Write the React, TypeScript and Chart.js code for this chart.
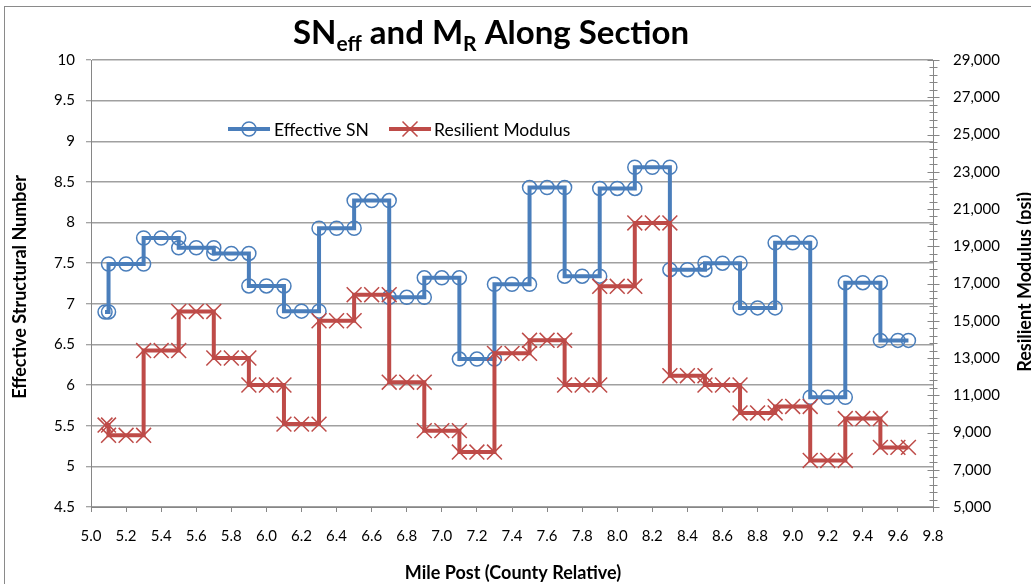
import React, { useEffect, useRef } from "react";
import { Chart, registerables } from "chart.js";

Chart.register(...registerables);

// Mile post of every marker along the section (each segment: start, middle, end)
const milePosts = [
  5.08, 5.1,
  5.1, 5.2, 5.3,
  5.3, 5.4, 5.5,
  5.5, 5.6, 5.7,
  5.7, 5.8, 5.9,
  5.9, 6.0, 6.1,
  6.1, 6.2, 6.3,
  6.3, 6.4, 6.5,
  6.5, 6.6, 6.7,
  6.7, 6.8, 6.9,
  6.9, 7.0, 7.1,
  7.1, 7.2, 7.3,
  7.3, 7.4, 7.5,
  7.5, 7.6, 7.7,
  7.7, 7.8, 7.9,
  7.9, 8.0, 8.1,
  8.1, 8.2, 8.3,
  8.3, 8.4, 8.5,
  8.5, 8.6, 8.7,
  8.7, 8.8, 8.9,
  8.9, 9.0, 9.1,
  9.1, 9.2, 9.3,
  9.3, 9.4, 9.5,
  9.5, 9.6, 9.66,
];

// Effective structural number at each mile post
const effectiveSN = [
  6.9, 6.9,
  7.49, 7.49, 7.49,
  7.81, 7.81, 7.81,
  7.69, 7.69, 7.69,
  7.62, 7.62, 7.62,
  7.22, 7.22, 7.22,
  6.91, 6.91, 6.91,
  7.93, 7.93, 7.93,
  8.27, 8.27, 8.27,
  7.08, 7.08, 7.08,
  7.32, 7.32, 7.32,
  6.32, 6.32, 6.32,
  7.24, 7.24, 7.24,
  8.43, 8.43, 8.43,
  7.34, 7.34, 7.34,
  8.42, 8.42, 8.42,
  8.68, 8.68, 8.68,
  7.42, 7.42, 7.42,
  7.5, 7.5, 7.5,
  6.95, 6.95, 6.95,
  7.75, 7.75, 7.75,
  5.85, 5.85, 5.85,
  7.26, 7.26, 7.26,
  6.55, 6.55, 6.55,
];

// Resilient modulus (psi) at each mile post
const resilientModulus = [
  9400, 9400,
  8850, 8850, 8850,
  13400, 13400, 13400,
  15500, 15500, 15500,
  13000, 13000, 13000,
  11550, 11550, 11550,
  9450, 9450, 9450,
  15000, 15000, 15000,
  16400, 16400, 16400,
  11700, 11700, 11700,
  9100, 9100, 9100,
  7950, 7950, 7950,
  13250, 13250, 13250,
  13950, 13950, 13950,
  11550, 11550, 11550,
  16850, 16850, 16850,
  20250, 20250, 20250,
  12050, 12050, 12050,
  11550, 11550, 11550,
  10050, 10050, 10050,
  10400, 10400, 10400,
  7500, 7500, 7500,
  9750, 9750, 9750,
  8200, 8200, 8200,
];

// Axis ranges and tick spacing
const mileRange = [5.0, 9.8];
const mileStep = 0.2;
const snRange = [4.5, 10];
const snStep = 0.5;
const mrRange = [5000, 29000];
const mrStep = 2000;
const mrMinorStep = 400;

const seriesNames = ["Effective SN", "Resilient Modulus"];

const FONT = "Lato, 'Open Sans', sans-serif";
const BLUE = "#4A7EBB";
const RED = "#BE4B48";
const AXIS = "#868686";
const GRID = "#a0a0a0";

const decorations = {
  id: "decorations",
  afterDraw(chart: any) {
    const { ctx, chartArea } = chart;
    const yR = chart.scales.yR;
    ctx.save();

    // right axis crossing tick marks
    ctx.strokeStyle = AXIS;
    ctx.lineWidth = 1;
    const ax = Math.round(chartArea.right) + 0.5;
    for (let v = mrRange[0]; v <= mrRange[1] + 1; v += mrMinorStep) {
      const y = Math.round(yR.getPixelForValue(v)) + 0.5;
      const major = (v - mrRange[0]) % mrStep === 0;
      const h = major ? 6 : 4;
      ctx.beginPath();
      ctx.moveTo(ax - h, y);
      ctx.lineTo(ax + h, y);
      ctx.stroke();
    }

    // chart title with subscripts
    const parts = [
      { t: "SN", sub: false },
      { t: "eff", sub: true },
      { t: " and M", sub: false },
      { t: "R", sub: true },
      { t: " Along Section", sub: false },
    ];
    const bigFont = `bold 33px ${FONT}`;
    const subFont = `bold 21px ${FONT}`;
    let total = 0;
    for (const p of parts) {
      ctx.font = p.sub ? subFont : bigFont;
      total += ctx.measureText(p.t).width;
    }
    let x = 491 - total / 2;
    ctx.fillStyle = "#000";
    ctx.textBaseline = "alphabetic";
    ctx.textAlign = "left";
    for (const p of parts) {
      ctx.font = p.sub ? subFont : bigFont;
      ctx.fillText(p.t, x, p.sub ? 51 : 44);
      x += ctx.measureText(p.t).width;
    }

    // axis titles
    ctx.font = `bold 18px ${FONT}`;
    ctx.textAlign = "center";
    ctx.textBaseline = "middle";
    ctx.fillText("Mile Post (County Relative)", 513, 573);

    ctx.save();
    ctx.translate(20, 287);
    ctx.rotate(-Math.PI / 2);
    ctx.fillText("Effective Structural Number", 0, 0);
    ctx.restore();

    ctx.save();
    ctx.translate(1025, 282);
    ctx.rotate(-Math.PI / 2);
    ctx.fillText("Resilient Modulus (psi)", 0, 0);
    ctx.restore();

    // legend
    const ly = 129;
    ctx.lineWidth = 4;
    ctx.lineCap = "butt";
    ctx.strokeStyle = BLUE;
    ctx.beginPath();
    ctx.moveTo(228, ly);
    ctx.lineTo(270, ly);
    ctx.stroke();
    ctx.lineWidth = 1.5;
    ctx.beginPath();
    ctx.arc(249, ly, 7, 0, Math.PI * 2);
    ctx.stroke();

    ctx.lineWidth = 4;
    ctx.strokeStyle = RED;
    ctx.beginPath();
    ctx.moveTo(389, ly);
    ctx.lineTo(431, ly);
    ctx.stroke();
    ctx.lineWidth = 1.5;
    const r = 7.5;
    ctx.beginPath();
    ctx.moveTo(410 - r, ly - r);
    ctx.lineTo(410 + r, ly + r);
    ctx.moveTo(410 + r, ly - r);
    ctx.lineTo(410 - r, ly + r);
    ctx.stroke();

    ctx.font = `17.5px ${FONT}`;
    ctx.fillStyle = "#000";
    ctx.textAlign = "left";
    ctx.textBaseline = "middle";
    ctx.fillText(seriesNames[0], 274, ly + 1);
    ctx.fillText(seriesNames[1], 434, ly + 1);

    ctx.restore();
  },
};

export default function App() {
  const canvasRef = useRef<HTMLCanvasElement | null>(null);

  useEffect(() => {
    const canvas = canvasRef.current;
    if (!canvas) return;

    const snPoints = milePosts.map((m, i) => ({ x: m, y: effectiveSN[i] }));
    const mrPoints = milePosts.map((m, i) => ({ x: m, y: resilientModulus[i] }));

    const chart = new Chart(canvas, {
      type: "line",
      data: {
        datasets: [
          {
            label: seriesNames[0],
            data: snPoints,
            yAxisID: "y",
            borderColor: BLUE,
            borderWidth: 4,
            borderJoinStyle: "miter",
            tension: 0,
            pointStyle: "circle",
            pointRadius: 7,
            pointBorderWidth: 1.5,
            pointBorderColor: BLUE,
            pointBackgroundColor: "rgba(0,0,0,0)",
            order: 2,
          },
          {
            label: seriesNames[1],
            data: mrPoints,
            yAxisID: "yR",
            borderColor: RED,
            borderWidth: 4,
            borderJoinStyle: "miter",
            tension: 0,
            pointStyle: "crossRot",
            pointRadius: 10.5,
            pointBorderWidth: 1.5,
            pointBorderColor: RED,
            pointBackgroundColor: RED,
            order: 1,
          },
        ],
      },
      options: {
        responsive: false,
        animation: false,
        events: [],
        layout: { padding: { top: 60, left: 0, right: 0, bottom: 0 } },
        plugins: {
          legend: { display: false },
          title: { display: false },
          tooltip: { enabled: false },
        },
        scales: {
          x: {
            type: "linear",
            position: "bottom",
            min: mileRange[0],
            max: mileRange[1],
            afterFit: (s: any) => {
              s.height = 77;
            },
            ticks: {
              stepSize: mileStep,
              autoSkip: false,
              maxRotation: 0,
              padding: 15,
              color: "#000",
              font: { family: FONT, size: 15 },
              callback: (v: any) => Number(v).toFixed(1),
            },
            grid: {
              drawOnChartArea: false,
              drawTicks: true,
              tickLength: 5,
              color: AXIS,
            },
            border: { color: AXIS, width: 1 },
          },
          y: {
            type: "linear",
            position: "left",
            min: snRange[0],
            max: snRange[1],
            afterFit: (s: any) => {
              s.width = 91;
            },
            ticks: {
              stepSize: snStep,
              padding: 11,
              color: "#000",
              font: { family: FONT, size: 15 },
              callback: (v: any) => String(Math.round(Number(v) * 10) / 10),
            },
            grid: {
              color: GRID,
              lineWidth: 1.5,
              drawTicks: true,
              tickLength: 5,
              tickColor: AXIS,
              tickWidth: 1,
            },
            border: { color: AXIS, width: 1 },
          },
          yR: {
            type: "linear",
            position: "right",
            min: mrRange[0],
            max: mrRange[1],
            afterFit: (s: any) => {
              s.width = 98;
            },
            ticks: {
              stepSize: mrStep,
              padding: 20,
              color: "#000",
              font: { family: FONT, size: 15 },
              callback: (v: any) => Number(v).toLocaleString("en-US"),
            },
            grid: { drawOnChartArea: false, drawTicks: false },
            border: { color: AXIS, width: 1 },
          },
        },
      },
      plugins: [decorations],
    });

    return () => chart.destroy();
  }, []);

  return (
    <div
      style={{
        position: "fixed",
        left: 0,
        top: 0,
        width: 1031,
        height: 584,
        overflow: "hidden",
        background: "#fff",
      }}
    >
      <div
        style={{
          position: "absolute",
          left: 4,
          top: 6,
          width: 1200,
          height: 700,
          border: "1px solid #8a8a8a",
        }}
      />
      <canvas
        ref={canvasRef}
        width={1031}
        height={584}
        style={{ position: "absolute", left: 0, top: 0 }}
      />
    </div>
  );
}
